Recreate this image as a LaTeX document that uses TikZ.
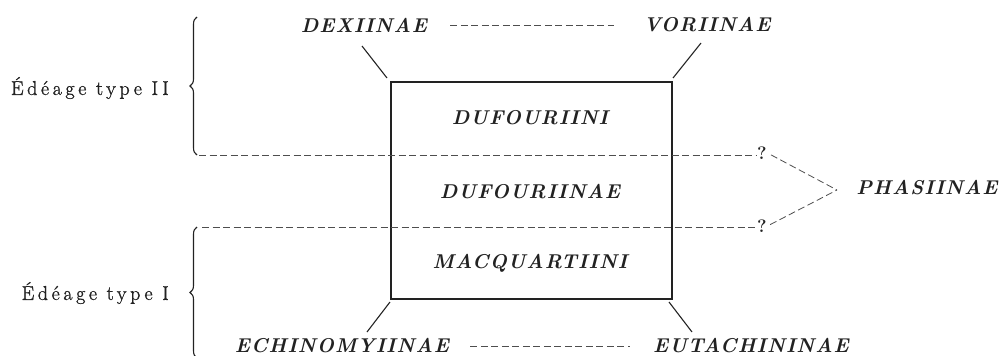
\documentclass[tikz,border=0pt]{standalone}
\usepackage{fontspec}
\setmainfont{Latin Modern Roman}
\newfontfamily\capfont[LetterSpace=5]{Latin Modern Roman}
\newfontfamily\labfont[LetterSpace=18,FakeBold=1.2]{Latin Modern Roman}
\usetikzlibrary{decorations.pathreplacing}
\definecolor{ink}{HTML}{222222}
\tikzset{
  taxon/.style={font=\capfont\bfseries\itshape\fontsize{20}{22}\selectfont, text=ink, inner sep=1pt},
  grp/.style={font=\labfont\fontsize{20}{24}\selectfont, text=ink, inner sep=1pt},
  dashline/.style={draw=ink!80, line width=0.8pt, dash pattern=on 7pt off 3.5pt},
  solid line/.style={draw=ink, line width=1.1pt},
  bracestyle/.style={draw=ink, line width=1.1pt, decorate, decoration={brace, amplitude=7pt}},
  qm/.style={font=\fontsize{18}{20}\selectfont\bfseries, text=ink, inner sep=0.5pt}
}
\begin{document}
\begin{tikzpicture}[x=1pt, y=-1pt]
\useasboundingbox (0,0) rectangle (999,356);
% box
\coordinate (bnw) at (391,82);
\coordinate (bne) at (672,82);
\coordinate (bsw) at (391,299);
\coordinate (bse) at (672,299);
\draw[solid line] (bnw) rectangle (bse);
% taxa
\node[taxon] (dex) at (364,25) {DEXIINAE};
\node[taxon] (vor) at (707,25) {VORIINAE};
\node[taxon] (ech) at (342,346) {ECHINOMYIINAE};
\node[taxon] (eut) at (751,346) {EUTACHININAE};
\node[taxon] (dufi) at (530,118) {DUFOURIINI};
\node[taxon] (dufae) at (530,192) {DUFOURIINAE};
\node[taxon] (macq) at (530,263) {MACQUARTIINI};
\node[taxon] (phas) at (927,188) {PHASIINAE};
% group labels
\node[grp, anchor=east] (t2) at (170,88) {Édéage type II};
\node[grp, anchor=east] (t1) at (170,293) {Édéage type I};
% question marks
\node[qm] (q1) at (762,153) {?};
\node[qm] (q2) at (762,226) {?};
\coordinate (conv) at (837,190);
% dashed connectors
\draw[dashline, shorten <=22pt, shorten >=28pt] (dex.east) -- (vor.west);
\draw[dashline, shorten <=20pt, shorten >=22pt] (ech.east) -- (eut.west);
\coordinate (l1) at (199,155);
\coordinate (l2) at (202,227);
\draw[dashline] (l1) -- (q1.west |- l1);
\draw[dashline] (l2) -- (q2.west |- l2);
\draw[dashline, shorten <=4pt] (q1.east) -- (conv);
\draw[dashline, shorten <=3pt] (q2.east) -- (conv);
% diagonal links
\coordinate (d1) at (362,46);
\coordinate (d2) at (701,43);
\coordinate (d3) at (367,332);
\coordinate (d4) at (692,332);
\draw[solid line] (d1) -- ([shift={(-4pt,4pt)}]bnw);
\draw[solid line] (d2) -- ([shift={(1pt,4pt)}]bne);
\draw[solid line] (d3) -- ([shift={(-1pt,-3pt)}]bsw);
\draw[solid line] (d4) -- ([shift={(-3pt,-3pt)}]bse);
% braces
\coordinate (b1a) at (197,155);
\coordinate (b1b) at (197,17);
\coordinate (b2a) at (197,358);
\coordinate (b2b) at (197,227);
\draw[bracestyle] (b1a) -- (b1b);
\draw[bracestyle] (b2a) -- (b2b);
\end{tikzpicture}
\end{document}
